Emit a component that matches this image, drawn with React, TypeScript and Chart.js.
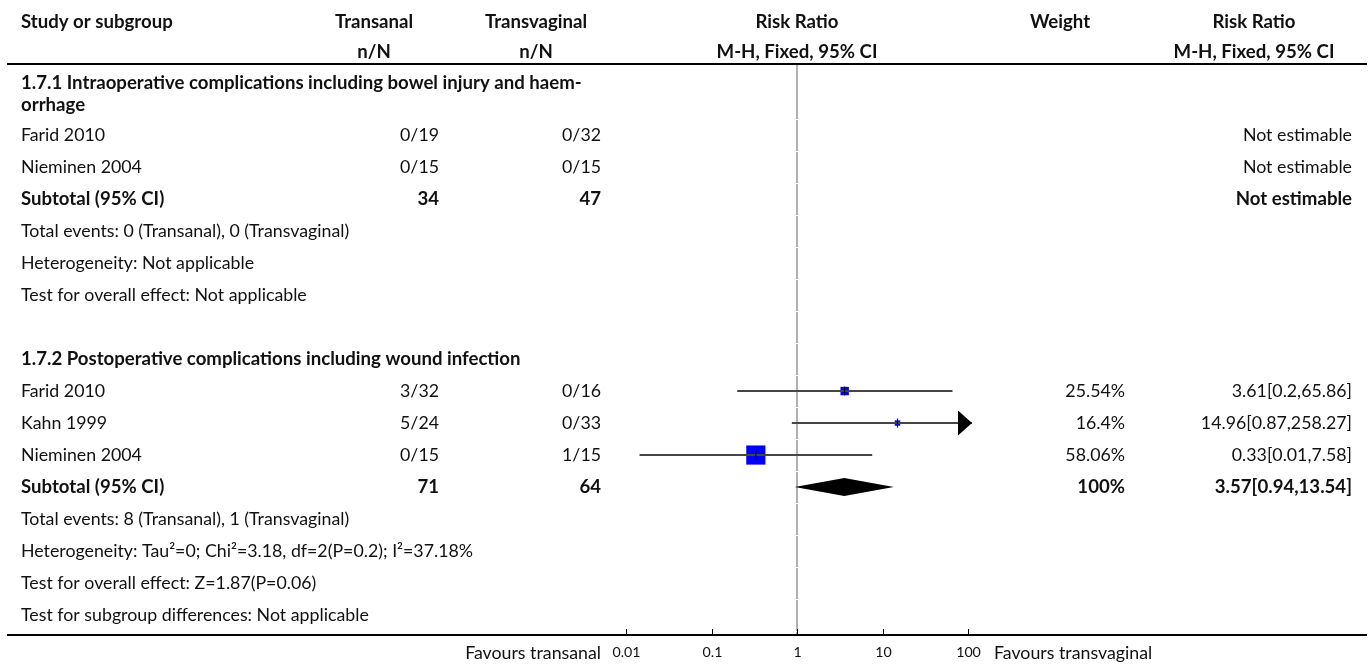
import React, { useEffect, useRef } from "react";
import { Chart, registerables } from "chart.js";

Chart.register(...registerables);

// ---------------- data ----------------
const armNames = ["Transanal", "Transvaginal"];

const group1Title = ["1.7.1 Intraoperative complications including bowel injury and haem-", "orrhage"];
const group1Studies = ["Farid 2010", "Nieminen 2004"];
const group1TransanalEvents = [0, 0];
const group1TransanalTotal = [19, 15];
const group1TransvaginalEvents = [0, 0];
const group1TransvaginalTotal = [32, 15];
const group1Notes = ["Heterogeneity: Not applicable", "Test for overall effect: Not applicable"];

const group2Title = "1.7.2 Postoperative complications including wound infection";
const group2Studies = ["Farid 2010", "Kahn 1999", "Nieminen 2004"];
const group2TransanalEvents = [3, 5, 0];
const group2TransanalTotal = [32, 24, 15];
const group2TransvaginalEvents = [0, 0, 1];
const group2TransvaginalTotal = [16, 33, 15];
const group2RiskRatio = [3.61, 14.96, 0.33];
const group2Lower = [0.2, 0.87, 0.0144];
const group2Upper = [65.86, 258.27, 7.58];
const group2Weight = [25.54, 16.4, 58.06];
const group2Pooled = [3.57, 0.94, 13.54]; // estimate, lower, upper
const group2PooledWeight = 100;
const group2Notes = [
  "Heterogeneity: Tau²=0; Chi²=3.18, df=2(P=0.2); I²=37.18%",
  "Test for overall effect: Z=1.87(P=0.06)",
];
const overallNotes = ["Test for subgroup differences: Not applicable"];

const axisTicks = [0.01, 0.1, 1, 10, 100];
const favoursLabels = ["Favours transanal", "Favours transvaginal"];

// ---------------- layout / style ----------------
const W = 1370;
const H = 664;
const FONT = 'Lato, "Source Sans Pro", "Noto Sans", sans-serif';
const TEXT_X = 21;
const COL_TA = { center: 374, right: 439 };
const COL_TV = { center: 536, right: 601 };
const COL_WT = { center: 1060, right: 1125 };
const COL_RR = { center: 1254, right: 1352 };
const HEADER_Y1 = 22;
const HEADER_Y2 = 52;
const RULE_L = 7;
const RULE_R = 1367;
const TOP_RULE = 64;
const BOTTOM_RULE = 635;
const PLOT_LEFT = 616;
const PLOT_RIGHT = 972;
const PX_PER_DECADE = 85.5;
const REF_X = 797;
const ROW_PX = 32;
const Y_MAX = (BOTTOM_RULE - TOP_RULE) / ROW_PX;
const X_MIN = Math.pow(10, -(REF_X - PLOT_LEFT) / PX_PER_DECADE);
const X_MAX = Math.pow(10, (PLOT_RIGHT - REF_X) / PX_PER_DECADE);
const SQUARE_PX_PER_WEIGHT = 0.33;
const CI_COLOR = "#454545";
const SQUARE_COLOR = "#0000ff";
const REF_COLOR = "#b0b0b0";
const TEXT_COLOR = "#111";

const fmt = (v: number) => String(Math.round(v * 100) / 100);
const sum = (a: number[]) => a.reduce((s, v) => s + v, 0);
const nN = (e: number, n: number) => `${e}/${n}`;

// ---------------- rows ----------------
interface Row {
  y: number;
  label?: string;
  lines?: { text: string; y: number }[];
  ta?: string;
  tv?: string;
  wt?: string;
  rr?: string;
  bold?: boolean;
}
const rows: Row[] = [];
const boundaries: number[] = [0];
let cursor = 0;
function pushRow(r: Omit<Row, "y">, h = 1) {
  rows.push({ ...r, y: cursor + h / 2 });
  cursor += h;
  boundaries.push(cursor);
}

// group 1
{
  const h = 1.72;
  rows.push({ y: cursor + h / 2, bold: true, lines: [{ text: group1Title[0], y: cursor + 0.59 }, { text: group1Title[1], y: cursor + 1.28 }] });
  cursor += h;
  boundaries.push(cursor);
  group1Studies.forEach((s, i) =>
    pushRow({
      label: s,
      ta: nN(group1TransanalEvents[i], group1TransanalTotal[i]),
      tv: nN(group1TransvaginalEvents[i], group1TransvaginalTotal[i]),
      rr: "Not estimable",
    })
  );
  pushRow({ label: "Subtotal (95% CI)", bold: true, ta: String(sum(group1TransanalTotal)), tv: String(sum(group1TransvaginalTotal)), rr: "Not estimable" });
  pushRow({ label: `Total events: ${sum(group1TransanalEvents)} (${armNames[0]}), ${sum(group1TransvaginalEvents)} (${armNames[1]})` });
  group1Notes.forEach((n) => pushRow({ label: n }));
  pushRow({});
}
// group 2
const group2RowY: number[] = [];
let group2SubtotalY = 0;
{
  pushRow({ label: group2Title, bold: true });
  group2Studies.forEach((s, i) => {
    group2RowY.push(cursor + 0.5);
    pushRow({
      label: s,
      ta: nN(group2TransanalEvents[i], group2TransanalTotal[i]),
      tv: nN(group2TransvaginalEvents[i], group2TransvaginalTotal[i]),
      wt: `${fmt(group2Weight[i])}%`,
      rr: `${fmt(group2RiskRatio[i])}[${fmt(group2Lower[i])},${fmt(group2Upper[i])}]`,
    });
  });
  group2SubtotalY = cursor + 0.5;
  pushRow({
    label: "Subtotal (95% CI)",
    bold: true,
    ta: String(sum(group2TransanalTotal)),
    tv: String(sum(group2TransvaginalTotal)),
    wt: `${fmt(group2PooledWeight)}%`,
    rr: `${fmt(group2Pooled[0])}[${fmt(group2Pooled[1])},${fmt(group2Pooled[2])}]`,
  });
  pushRow({ label: `Total events: ${sum(group2TransanalEvents)} (${armNames[0]}), ${sum(group2TransvaginalEvents)} (${armNames[1]})` });
  group2Notes.forEach((n) => pushRow({ label: n }));
  overallNotes.forEach((n) => pushRow({ label: n }));
}
boundaries.push(Y_MAX);

// ---------------- plugin ----------------
let sizes: { reg: number; bold: number; tick: number } | null = null;
function fit(ctx: CanvasRenderingContext2D, s: string, target: number, bold: boolean) {
  ctx.font = `${bold ? "700 " : ""}100px ${FONT}`;
  return (100 * target) / ctx.measureText(s).width;
}
function txt(ctx: CanvasRenderingContext2D, s: string, x: number, y: number, align: CanvasTextAlign, bold: boolean, size: number) {
  ctx.font = `${bold ? "700 " : ""}${size}px ${FONT}`;
  ctx.textAlign = align;
  ctx.textBaseline = "middle";
  ctx.fillStyle = TEXT_COLOR;
  ctx.fillText(s, x, y);
}

const forestPlugin = {
  id: "forestTable",
  beforeDatasetsDraw(chart: any) {
    const { ctx, scales } = chart;
    const px = Math.round(scales.x.getPixelForValue(1));
    ctx.save();
    ctx.strokeStyle = REF_COLOR;
    ctx.lineWidth = 2;
    for (let i = 0; i < boundaries.length - 1; i++) {
      const a = scales.y.getPixelForValue(boundaries[i]) + 1;
      const b = scales.y.getPixelForValue(boundaries[i + 1]);
      if (b - a < 1) continue;
      ctx.beginPath();
      ctx.moveTo(px, a);
      ctx.lineTo(px, b);
      ctx.stroke();
    }
    ctx.restore();
  },
  afterDatasetsDraw(chart: any) {
    const { ctx, scales, chartArea } = chart;
    ctx.save();
    ctx.fillStyle = "#000";
    // arrows for CIs running off the scale
    group2Upper.forEach((hi, i) => {
      const yc = scales.y.getPixelForValue(group2RowY[i]);
      if (hi > scales.x.max) {
        const tip = chartArea.right;
        ctx.beginPath();
        ctx.moveTo(tip - 14, yc - 12.5);
        ctx.lineTo(tip, yc);
        ctx.lineTo(tip - 14, yc + 12.5);
        ctx.closePath();
        ctx.fill();
      }
      if (group2Lower[i] < scales.x.min) {
        const tip = chartArea.left;
        ctx.beginPath();
        ctx.moveTo(tip + 14, yc - 12.5);
        ctx.lineTo(tip, yc);
        ctx.lineTo(tip + 14, yc + 12.5);
        ctx.closePath();
        ctx.fill();
      }
    });
    // pooled diamond
    const yc = scales.y.getPixelForValue(group2SubtotalY);
    const xe = scales.x.getPixelForValue(group2Pooled[0]);
    const xl = scales.x.getPixelForValue(group2Pooled[1]);
    const xh = scales.x.getPixelForValue(group2Pooled[2]);
    ctx.beginPath();
    ctx.moveTo(xl, yc);
    ctx.lineTo(xe, yc - 9);
    ctx.lineTo(xh, yc);
    ctx.lineTo(xe, yc + 9);
    ctx.closePath();
    ctx.fill();
    ctx.restore();
  },
  afterDraw(chart: any) {
    const { ctx, scales } = chart;
    if (!sizes) {
      const reg = fit(ctx, overallNotes[0], 348, false);
      sizes = {
        reg,
        bold: fit(ctx, group2Title, 500, true),
        tick: reg * 0.8,
      };
    }
    const { reg, bold, tick } = sizes;
    ctx.save();
    // header
    txt(ctx, "Study or subgroup", TEXT_X, HEADER_Y1, "left", true, bold);
    txt(ctx, armNames[0], COL_TA.center, HEADER_Y1, "center", true, bold);
    txt(ctx, "n/N", COL_TA.center, HEADER_Y2, "center", true, bold);
    txt(ctx, armNames[1], COL_TV.center, HEADER_Y1, "center", true, bold);
    txt(ctx, "n/N", COL_TV.center, HEADER_Y2, "center", true, bold);
    txt(ctx, "Risk Ratio", REF_X, HEADER_Y1, "center", true, bold);
    txt(ctx, "M-H, Fixed, 95% CI", REF_X, HEADER_Y2, "center", true, bold);
    txt(ctx, "Weight", COL_WT.center, HEADER_Y1, "center", true, bold);
    txt(ctx, "Risk Ratio", COL_RR.center, HEADER_Y1, "center", true, bold);
    txt(ctx, "M-H, Fixed, 95% CI", COL_RR.center, HEADER_Y2, "center", true, bold);

    // rules
    ctx.strokeStyle = "#000";
    ctx.lineWidth = 2;
    ctx.beginPath();
    ctx.moveTo(RULE_L, TOP_RULE);
    ctx.lineTo(RULE_R, TOP_RULE);
    ctx.moveTo(RULE_L, BOTTOM_RULE);
    ctx.lineTo(RULE_R, BOTTOM_RULE);
    ctx.stroke();

    // rows
    rows.forEach((r) => {
      const yp = scales.y.getPixelForValue(r.y);
      const b = !!r.bold;
      const sz = b ? bold : reg;
      if (r.lines) r.lines.forEach((l) => txt(ctx, l.text, TEXT_X, scales.y.getPixelForValue(l.y), "left", true, bold));
      if (r.label) txt(ctx, r.label, TEXT_X, yp, "left", b, sz);
      if (r.ta) txt(ctx, r.ta, COL_TA.right, yp, "right", b, sz);
      if (r.tv) txt(ctx, r.tv, COL_TV.right, yp, "right", b, sz);
      if (r.wt) txt(ctx, r.wt, COL_WT.right, yp, "right", b, sz);
      if (r.rr) txt(ctx, r.rr, COL_RR.right, yp, "right", b, sz);
    });

    // axis ticks
    ctx.lineWidth = 1;
    axisTicks.forEach((t) => {
      const xp = Math.round(scales.x.getPixelForValue(t)) + 0.5;
      ctx.beginPath();
      ctx.moveTo(xp, BOTTOM_RULE - 6);
      ctx.lineTo(xp, BOTTOM_RULE);
      ctx.stroke();
      txt(ctx, String(t), xp, BOTTOM_RULE + 17, "center", false, tick);
    });
    txt(ctx, favoursLabels[0], COL_TV.right, BOTTOM_RULE + 18, "right", false, reg);
    txt(ctx, favoursLabels[1], 994, BOTTOM_RULE + 18, "left", false, reg);
    ctx.restore();
  },
};

// ---------------- datasets ----------------
function buildDatasets(): any[] {
  const ci = group2RiskRatio.map((_, i) => ({
    type: "line",
    data: [
      { x: group2Lower[i], y: group2RowY[i] },
      { x: group2Upper[i], y: group2RowY[i] },
    ],
    borderColor: CI_COLOR,
    borderWidth: 2,
    pointRadius: 0,
    fill: false,
    order: 1,
  }));
  const squares = {
    type: "line",
    showLine: false,
    data: group2RiskRatio.map((v, i) => ({ x: v, y: group2RowY[i] })),
    pointStyle: "rect",
    pointRadius: group2Weight.map((w) => (w * SQUARE_PX_PER_WEIGHT) / (2 * Math.SQRT1_2)),
    pointBackgroundColor: SQUARE_COLOR,
    pointBorderWidth: 0,
    borderWidth: 0,
    order: 2,
  };
  const marks = {
    type: "line",
    showLine: false,
    data: group2RiskRatio.map((v, i) => ({ x: v, y: group2RowY[i] })),
    pointStyle: "line",
    rotation: 90,
    pointRadius: 4.5,
    pointBorderColor: "#000",
    pointBorderWidth: 1,
    order: 0,
  };
  return [marks, ...ci, squares];
}

export default function App() {
  const ref = useRef<HTMLCanvasElement>(null);
  useEffect(() => {
    const canvas = ref.current;
    if (!canvas) return;
    const chart = new Chart(canvas, {
      type: "line",
      data: { datasets: buildDatasets() },
      options: {
        responsive: false,
        animation: false,
        devicePixelRatio: 1,
        events: [],
        layout: { padding: { left: PLOT_LEFT, right: W - PLOT_RIGHT, top: TOP_RULE, bottom: H - BOTTOM_RULE } },
        plugins: { legend: { display: false }, tooltip: { enabled: false }, title: { display: false } },
        scales: {
          x: { type: "logarithmic", min: X_MIN, max: X_MAX, bounds: "data", display: false },
          y: { type: "linear", min: 0, max: Y_MAX, reverse: true, display: false },
        },
      } as any,
      plugins: [forestPlugin],
    } as any);
    return () => chart.destroy();
  }, []);
  return (
    <div style={{ position: "absolute", left: 0, top: 0, width: W, height: H, background: "#fff" }}>
      <canvas ref={ref} width={W} height={H} style={{ display: "block" }} />
    </div>
  );
}
